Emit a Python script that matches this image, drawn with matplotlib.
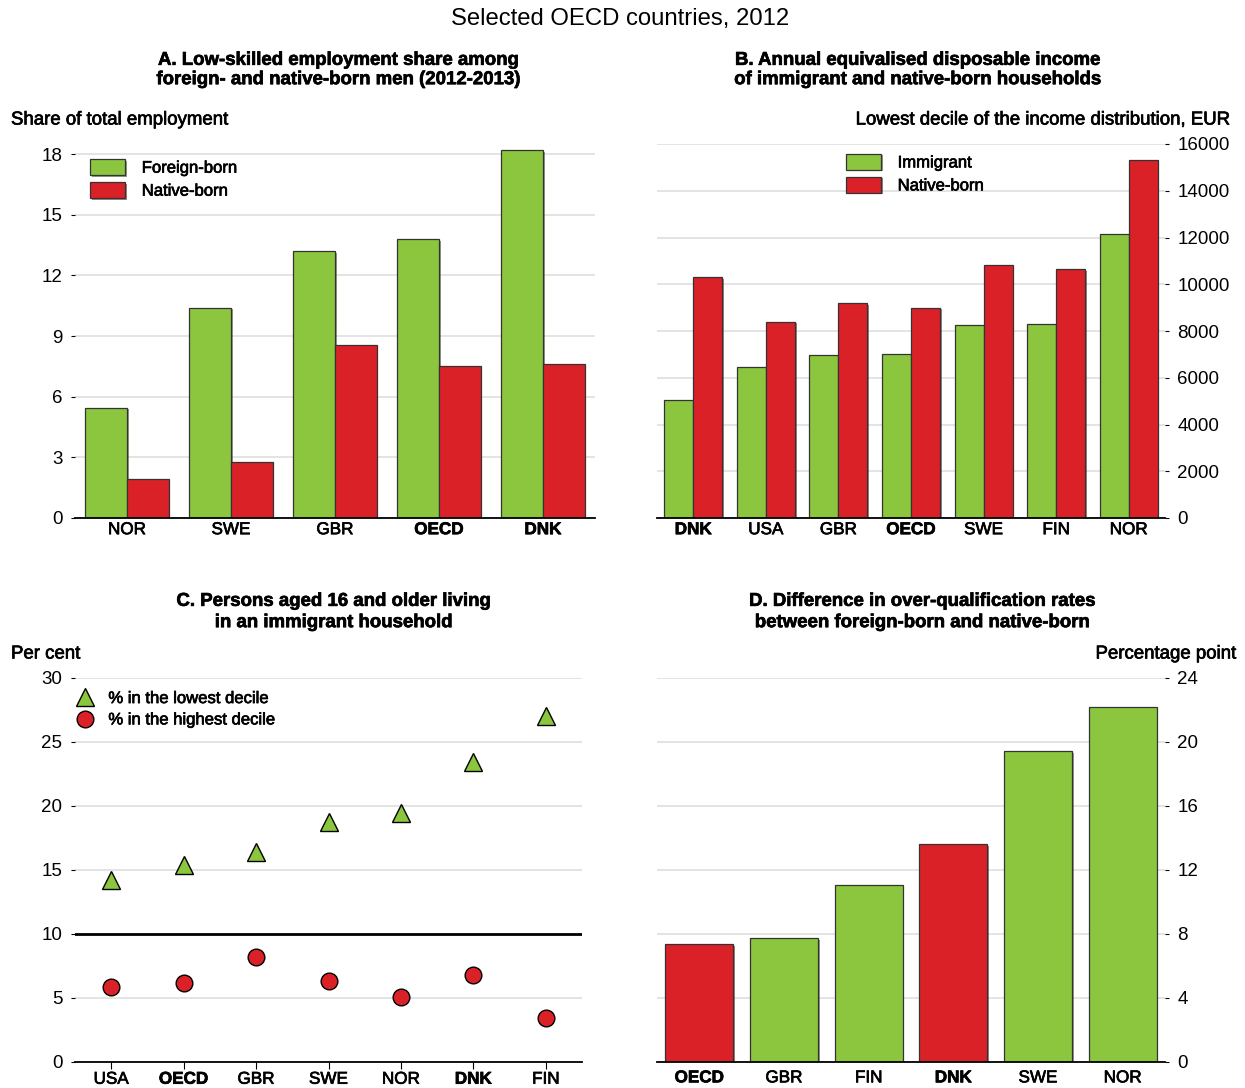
import numpy as np
import matplotlib
matplotlib.use('Agg')
import matplotlib.pyplot as plt
import matplotlib.patheffects as pe

plt.rcParams['font.family'] = ['Liberation Sans', 'DejaVu Sans']

GREEN = '#8CC63F'
RED = '#DA2128'
GRID = '#dcdcdc'

# ---- data -------------------------------------------------------------
# A. low-skilled employment share
a_countries = ['NOR', 'SWE', 'GBR', 'OECD', 'DNK']
a_foreign = [5.45, 10.4, 13.2, 13.8, 18.2]
a_native = [1.95, 2.75, 8.57, 7.53, 7.62]

# B. annual equivalised disposable income, lowest decile (EUR)
b_countries = ['DNK', 'USA', 'GBR', 'OECD', 'SWE', 'FIN', 'NOR']
b_immigrant = [5030, 6480, 6970, 7020, 8240, 8310, 12130]
b_native = [10300, 8400, 9190, 9000, 10820, 10650, 15300]

# C. persons aged 16+ living in an immigrant household
c_countries = ['USA', 'OECD', 'GBR', 'SWE', 'NOR', 'DNK', 'FIN']
c_lowest = [14.2, 15.4, 16.4, 18.75, 19.45, 23.45, 27.05]
c_highest = [5.88, 6.17, 8.2, 6.35, 5.08, 6.78, 3.46]

# D. difference in over-qualification rates
d_countries = ['OECD', 'GBR', 'FIN', 'DNK', 'SWE', 'NOR']
d_values = [7.37, 7.75, 11.05, 13.6, 19.42, 22.2]
d_highlight = ['OECD', 'DNK']

bold_labels = ['OECD', 'DNK']

W, H = 1245, 1088
fig = plt.figure(figsize=(W / 100, H / 100), dpi=100)


def box(l, r, t, b):
    return [l / W, 1 - b / H, (r - l) / W, (b - t) / H]


def shadow():
    return [pe.SimplePatchShadow(offset=(1.2, -1.2), alpha=0.5), pe.Normal()]


def style(ax, side):
    for s in ['top', 'left', 'right']:
        ax.spines[s].set_visible(False)
    ax.spines['bottom'].set_linewidth(1.3)
    ax.spines['bottom'].set_color('black')
    ax.set_axisbelow(True)
    ax.yaxis.grid(True, color=GRID, lw=1.1)
    ax.tick_params(axis='y', length=3, width=0.8, labelsize=13.5, pad=6,
                   direction='out')
    if side == 'right':
        ax.yaxis.tick_right()
    ax.tick_params(axis='x', length=0, labelsize=12.3, pad=3)


def bold_ticks(ax, labels):
    ax.set_xticks(range(len(labels)))
    ax.set_xticklabels(labels)
    for t in ax.get_xticklabels():
        if t.get_text() in bold_labels:
            t.set_fontweight('bold')


leg_kw = dict(loc='upper left', frameon=False, fontsize=12, borderaxespad=0,
              borderpad=0, labelspacing=0.38)

# ---- Panel A ----------------------------------------------------------
axA = fig.add_axes(box(75, 595, 144, 518))
x = np.arange(len(a_countries))
axA.bar(x - 0.2, a_foreign, 0.4, color=GREEN, edgecolor='#333333', lw=0.9,
        label='Foreign-born', path_effects=shadow())
axA.bar(x + 0.2, a_native, 0.4, color=RED, edgecolor='#333333', lw=0.9,
        label='Native-born', path_effects=shadow())
axA.set_xlim(-0.5, 4.5)
axA.set_ylim(0, 18.5)
axA.set_yticks([0, 3, 6, 9, 12, 15, 18])
style(axA, 'left')
bold_ticks(axA, a_countries)
axA.legend(bbox_to_anchor=(0.029, 0.960), handlelength=2.1, handleheight=1.1,
           handletextpad=1.0, **leg_kw)

# ---- Panel B ----------------------------------------------------------
axB = fig.add_axes(box(657, 1165, 144, 518))
x = np.arange(len(b_countries))
axB.bar(x - 0.2, b_immigrant, 0.4, color=GREEN, edgecolor='#333333', lw=0.9,
        label='Immigrant', path_effects=shadow())
axB.bar(x + 0.2, b_native, 0.4, color=RED, edgecolor='#333333', lw=0.9,
        label='Native-born', path_effects=shadow())
axB.set_xlim(-0.5, 6.5)
axB.set_ylim(0, 16000)
axB.set_yticks(range(0, 16001, 2000))
style(axB, 'right')
bold_ticks(axB, b_countries)
axB.legend(bbox_to_anchor=(0.372, 0.974), handlelength=2.1, handleheight=1.1,
           handletextpad=1.0, **leg_kw)

# ---- Panel C ----------------------------------------------------------
axC = fig.add_axes(box(75, 582, 678, 1062))
x = np.arange(len(c_countries))
axC.axhline(10, color='black', lw=2, zorder=2)
axC.plot(x, c_lowest, ls='none', marker='^', ms=13, mfc=GREEN, mec='black',
         mew=1, label='% in the lowest decile', zorder=3)
axC.plot(x, c_highest, ls='none', marker='o', ms=12, mfc=RED, mec='black',
         mew=1, label='% in the highest decile', zorder=3)
axC.set_xlim(-0.5, 6.5)
axC.set_ylim(0, 30)
axC.set_yticks([0, 5, 10, 15, 20, 25, 30])
style(axC, 'left')
bold_ticks(axC, c_countries)
axC.tick_params(axis='x', length=5, width=0.8, direction='out', pad=2)
axC.legend(bbox_to_anchor=(0.0, 0.966), handlelength=1.2, handletextpad=0.8,
           numpoints=1, **leg_kw)

# ---- Panel D ----------------------------------------------------------
axD = fig.add_axes(box(657, 1165, 678, 1062))
x = np.arange(len(d_countries))
d_colors = [RED if c in d_highlight else GREEN for c in d_countries]
axD.bar(x, d_values, 0.8, color=d_colors, edgecolor='#333333', lw=0.9,
        path_effects=shadow())
axD.set_xlim(-0.5, 5.5)
axD.set_ylim(0, 24)
axD.set_yticks([0, 4, 8, 12, 16, 20, 24])
style(axD, 'right')
bold_ticks(axD, d_countries)
axD.tick_params(axis='x', pad=6)

# ---- texts ------------------------------------------------------------
title_kw = dict(ha='center', va='center', fontsize=13.4, fontweight='bold')
fig.text(338 / W, 1 - 70 / H,
         'A. Low-skilled employment share among\nforeign- and native-born men (2012-2013)',
         linespacing=1.18, **title_kw)
fig.text(917 / W, 1 - 70 / H,
         'B. Annual equivalised disposable income\nof immigrant and native-born households',
         linespacing=1.18, **title_kw)
fig.text(333 / W, 1 - 612 / H,
         'C. Persons aged 16 and older living\nin an immigrant household',
         linespacing=1.33, **title_kw)
fig.text(922 / W, 1 - 612 / H,
         'D. Difference in over-qualification rates\nbetween foreign-born and native-born',
         linespacing=1.33, **title_kw)

fig.text(11 / W, 1 - 120 / H, 'Share of total employment', ha='left',
         va='center', fontsize=13.4)
fig.text(1229 / W, 1 - 120 / H, 'Lowest decile of the income distribution, EUR',
         ha='right', va='center', fontsize=13.4)
fig.text(11 / W, 1 - 654 / H, 'Per cent', ha='left', va='center', fontsize=13.4)
fig.text(1236 / W, 1 - 654 / H, 'Percentage point', ha='right', va='center',
         fontsize=13.4)

# slightly heavier text, like the reference rendering
for t in fig.findobj(matplotlib.text.Text):
    if t.get_text():
        t.set_path_effects([pe.withStroke(linewidth=0.5,
                                          foreground=t.get_color())])

# the overall heading stays plain
fig.text(620 / W, 1 - 19 / H, 'Selected OECD countries, 2012', ha='center',
         va='center', fontsize=17.2)

fig.savefig('out.png', dpi=100)
